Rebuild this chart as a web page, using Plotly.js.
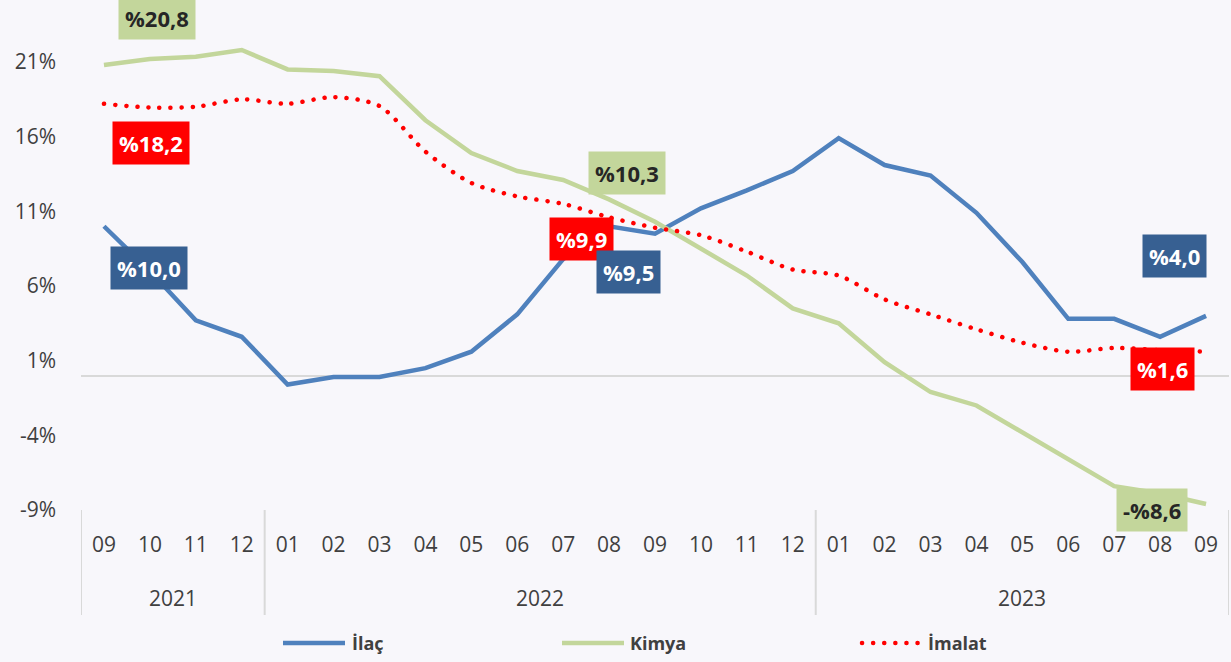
<!DOCTYPE html>
<html>
<head>
<meta charset="utf-8">
<script src="https://cdn.plot.ly/plotly-3.0.1.min.js"></script>
<style>
  html, body { margin: 0; padding: 0; background: #f8f7fb; }
  #chart { width: 1231px; height: 662px; }
</style>
</head>
<body>
<div id="chart"></div>
<script>
// ---- data ----
const months = ['09','10','11','12','01','02','03','04','05','06','07','08','09','10','11','12','01','02','03','04','05','06','07','08','09'];
const years = ['2021', '2022', '2023'];
const yearStart = [0, 4, 16];
const yearEnd = [3, 15, 24];
const ilac = [10.0, 7.0, 3.7, 2.6, -0.6, -0.1, -0.1, 0.5, 1.6, 4.1, 7.8, 10.0, 9.5, 11.2, 12.4, 13.7, 15.9, 14.1, 13.4, 10.9, 7.6, 3.8, 3.8, 2.6, 4.0];
const kimya = [20.8, 21.2, 21.35, 21.8, 20.5, 20.4, 20.05, 17.1, 14.9, 13.7, 13.1, 11.8, 10.3, 8.5, 6.7, 4.5, 3.5, 0.9, -1.1, -2.0, -3.8, -5.6, -7.4, -7.9, -8.6];
const imalat = [18.2, 17.95, 18.0, 18.5, 18.2, 18.65, 18.05, 15.0, 12.9, 12.0, 11.5, 10.6, 9.9, 9.4, 8.3, 7.1, 6.7, 5.1, 4.1, 3.1, 2.2, 1.6, 1.85, 1.7, 1.6];
const seriesNames = ['İlaç', 'Kimya', 'İmalat'];
const yTicks = [-9, -4, 1, 6, 11, 16, 21];

// ---- styles ----
const cBlue = '#4f81bd', cGreen = '#c3d69b', cRed = '#ff0000';
const boxBlue = '#376092';
const txt = '#404040';
const FONT = 'Open Sans, Noto Sans, sans-serif';

const idx = months.map((_, i) => i);
const fmt = v => (v < 0 ? '-%' : '%') + Math.abs(v).toFixed(1).replace('.', ',');

const traces = [
  {x: idx, y: ilac, name: seriesNames[0], type: 'scatter', mode: 'lines',
   line: {color: cBlue, width: 4.5}},
  {x: idx, y: kimya, name: seriesNames[1], type: 'scatter', mode: 'lines',
   line: {color: cGreen, width: 4.5}},
  {x: idx, y: imalat, name: seriesNames[2], type: 'scatter', mode: 'lines',
   line: {color: cRed, width: 4, dash: '4px,7px', shape: 'spline', smoothing: 0.8}}
];

const last = months.length - 1;
const mid = 12;
function lab(i, arr, bg, fc, xs, ys) {
  return {x: i, y: arr[i], xref: 'x', yref: 'y', text: fmt(arr[i]), showarrow: false,
    xshift: xs, yshift: ys, bgcolor: bg, borderpad: 6,
    font: {family: FONT, size: 22, color: fc, weight: 'bold'}};
}
const annotations = [
  lab(0, kimya, cGreen, '#262626', 53, 47),
  lab(0, imalat, cRed, '#ffffff', 47, -39),
  lab(0, ilac, boxBlue, '#ffffff', 45, -42),
  lab(mid, kimya, cGreen, '#262626', -28, 49),
  lab(mid, imalat, cRed, '#ffffff', -74, -11),
  lab(mid, ilac, boxBlue, '#ffffff', -27, -38),
  lab(last, ilac, boxBlue, '#ffffff', -32, 60),
  lab(last, imalat, cRed, '#ffffff', -44, -17),
  lab(last, kimya, cGreen, '#262626', -54, -6)
];
// year labels
years.forEach((yr, k) => {
  annotations.push({x: (yearStart[k] + yearEnd[k]) / 2, y: -0.176, xref: 'x', yref: 'paper',
    yanchor: 'middle', text: yr, showarrow: false, font: {family: FONT, size: 21, color: txt}});
});

const shapes = [];
// year separators
const seps = [-0.5].concat(yearEnd.map(e => e + 0.5));
seps.forEach(s => shapes.push({type: 'line', xref: 'x', yref: 'paper', x0: s, x1: s, y0: 0, y1: -0.21,
  line: {color: '#d9d9d9', width: 2}}));

// custom legend
const legItems = [
  {x0: 283, x1: 345, tx: 350, color: cBlue, dash: 'solid', w: 4.5},
  {x0: 562, x1: 624, tx: 628, color: cGreen, dash: 'solid', w: 4.5},
  {x0: 862, x1: 922, tx: 926, color: cRed, dash: '4px,7px', w: 4}
];
const L = 81, W = 1148, T = 10, H = 500;
const legY = (510 - 643) / H;
legItems.forEach((it, k) => {
  shapes.push({type: 'line', xref: 'paper', yref: 'paper', x0: (it.x0 - L) / W, x1: (it.x1 - L) / W,
    y0: legY, y1: legY, line: {color: it.color, width: it.w, dash: it.dash}});
  annotations.push({xref: 'paper', yref: 'paper', x: (it.tx - L) / W, y: legY, xanchor: 'left', yanchor: 'middle',
    text: seriesNames[k], showarrow: false, font: {family: FONT, size: 18, color: txt, weight: 'bold'}});
});

const layout = {
  width: 1231, height: 662,
  margin: {l: L, r: 2, t: T, b: 152},
  paper_bgcolor: '#f8f7fb', plot_bgcolor: '#f8f7fb',
  showlegend: false,
  font: {family: FONT, color: txt},
  xaxis: {range: [-0.5, 24.5], tickmode: 'array', tickvals: idx, ticktext: months,
    showgrid: false, zeroline: false, showline: false, ticks: '',
    tickfont: {family: FONT, size: 21, color: txt}, ticklabelstandoff: 20, fixedrange: true},
  yaxis: {range: [-9, 24.48], tickmode: 'array', tickvals: yTicks, ticktext: yTicks.map(v => v + '%'),
    showgrid: false, zeroline: true, zerolinecolor: '#d9d9d9', zerolinewidth: 2, showline: false, ticks: '',
    tickfont: {family: FONT, size: 21, color: txt}, ticklabelstandoff: 24, fixedrange: true},
  annotations: annotations,
  shapes: shapes
};

Plotly.newPlot('chart', traces, layout, {displayModeBar: false, staticPlot: true}).then(gd => {
  // round dots for the dotted series, like the original
  const lines = gd.querySelectorAll('.scatterlayer .trace');
  const p = lines[2] && lines[2].querySelector('path.js-line');
  if (p) { p.style.strokeDasharray = '0.1px,11px'; p.style.strokeLinecap = 'round'; p.style.strokeWidth = '4.5px'; }
  gd.querySelectorAll('.shapelayer path').forEach(sp => {
    if ((sp.style.stroke || '').indexOf('255, 0, 0') >= 0 || sp.style.stroke === '#ff0000') {
      sp.style.strokeDasharray = '0.1px,11px'; sp.style.strokeLinecap = 'round'; sp.style.strokeWidth = '4.5px';
    }
  });
});
</script>
</body>
</html>
